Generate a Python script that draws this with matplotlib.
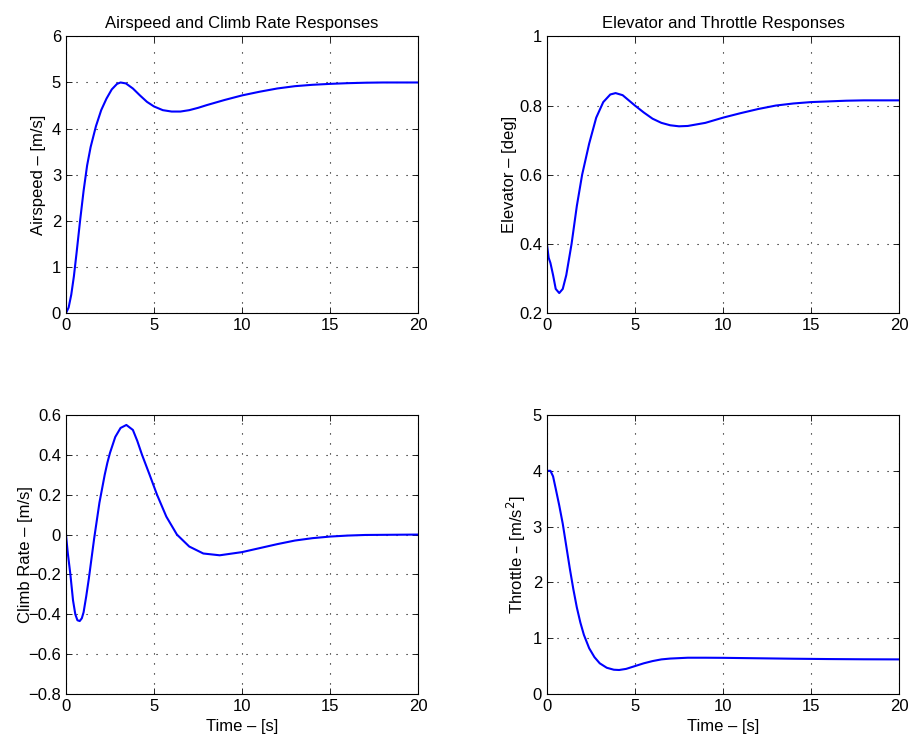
import matplotlib
matplotlib.use('Agg')
import matplotlib.pyplot as plt

plt.rcParams['font.family'] = ['Liberation Sans', 'DejaVu Sans']
plt.rcParams['font.size'] = 12

# airspeed response
t_air = [0, 0.15, 0.3, 0.45, 0.6, 0.8, 1.0, 1.2, 1.4, 1.7, 2.0, 2.3, 2.6, 2.9, 3.1,
         3.4, 3.8, 4.2, 4.6, 5.0, 5.5, 6.0, 6.5, 7.0, 7.5, 8, 9, 10, 11, 12, 13, 14,
         15, 16, 17, 18, 20]
airspeed = [0, 0.12, 0.4, 0.8, 1.3, 2.0, 2.65, 3.2, 3.6, 4.05, 4.4, 4.65, 4.85, 4.97, 5.0,
            4.98, 4.87, 4.72, 4.58, 4.48, 4.4, 4.37, 4.37, 4.4, 4.45, 4.51, 4.62, 4.72,
            4.8, 4.87, 4.92, 4.95, 4.97, 4.985, 4.995, 5.0, 5.0]

# climb rate response
t_climb = [0, 0.1, 0.25, 0.4, 0.53, 0.65, 0.78, 0.9, 1.0, 1.15, 1.3, 1.45, 1.6, 1.75, 1.9,
           2.05, 2.2, 2.35, 2.5, 2.8, 3.1, 3.43, 3.8, 4.05, 4.32, 4.75, 5.17, 5.7, 6.3,
           7.0, 7.8, 8.73, 10, 11, 12, 13, 14, 15, 16, 17, 20]
climb = [0, -0.09, -0.2, -0.33, -0.4, -0.43, -0.434, -0.42, -0.39, -0.31, -0.22, -0.12,
         -0.02, 0.07, 0.16, 0.23, 0.3, 0.36, 0.41, 0.49, 0.535, 0.55, 0.525, 0.47, 0.4,
         0.3, 0.2, 0.09, 0.0, -0.06, -0.095, -0.104, -0.088, -0.068, -0.048, -0.03,
         -0.018, -0.01, -0.005, -0.002, 0]

# elevator response
t_elev = [0, 0.1, 0.2, 0.35, 0.5, 0.7, 0.9, 1.1, 1.4, 1.7, 2.0, 2.4, 2.8, 3.2, 3.6, 3.9,
          4.3, 5, 5.5, 6, 6.5, 7, 7.5, 8, 9, 10, 11, 12, 13, 14, 15, 16, 17, 18, 20]
elevator = [0.40, 0.36, 0.345, 0.31, 0.27, 0.258, 0.27, 0.31, 0.40, 0.51, 0.6, 0.69,
            0.765, 0.81, 0.832, 0.836, 0.83, 0.80, 0.78, 0.762, 0.75, 0.743, 0.74, 0.741,
            0.75, 0.765, 0.778, 0.79, 0.80, 0.806, 0.81, 0.812, 0.814, 0.815, 0.815]

# throttle response
t_thr = [0, 0.2, 0.35, 0.5, 0.7, 0.9, 1.1, 1.3, 1.5, 1.7, 1.9, 2.1, 2.4, 2.7, 3.0, 3.4,
         3.8, 4.1, 4.5, 5.0, 5.5, 6.0, 6.5, 7, 8, 9, 10, 12, 14, 16, 18, 20]
throttle = [4.0, 4.0, 3.9, 3.68, 3.38, 3.05, 2.65, 2.25, 1.88, 1.55, 1.28, 1.06, 0.82,
            0.66, 0.55, 0.47, 0.435, 0.43, 0.45, 0.5, 0.55, 0.59, 0.62, 0.635, 0.65,
            0.65, 0.648, 0.64, 0.632, 0.626, 0.622, 0.62]

fig = plt.figure(figsize=(9.1, 7.42), dpi=100)
ax1 = fig.add_axes([0.0725, 0.578, 0.387, 0.373])
ax2 = fig.add_axes([0.601, 0.578, 0.387, 0.373])
ax3 = fig.add_axes([0.0725, 0.0647, 0.387, 0.376])
ax4 = fig.add_axes([0.601, 0.0647, 0.387, 0.376])

def style(ax, ylim, yticks, lx):
    ax.set_xlim(0, 20)
    ax.set_xticks([0, 5, 10, 15, 20])
    ax.set_ylim(*ylim)
    ax.set_yticks(yticks)
    ax.grid(True, color='black', linestyle=(0, (1, 8)), linewidth=0.8)
    ax.tick_params(direction='in', top=True, right=True, length=4, width=0.6)
    for s in ax.spines.values():
        s.set_linewidth(0.8)
    ax.yaxis.set_label_coords(lx, 0.5)

ax1.plot(t_air, airspeed, color='blue', lw=1.5)
ax1.set_title('Airspeed and Climb Rate Responses', fontsize=12)
ax1.set_ylabel('Airspeed – [m/s]')
style(ax1, (0, 6), [0, 1, 2, 3, 4, 5, 6], -0.057)

ax2.plot(t_elev, elevator, color='blue', lw=1.5)
ax2.set_title('Elevator and Throttle Responses', fontsize=12)
ax2.set_ylabel('Elevator – [deg]')
style(ax2, (0.2, 1.0), [0.2, 0.4, 0.6, 0.8, 1.0], -0.085)
ax2.set_yticklabels(['0.2', '0.4', '0.6', '0.8', '1'])

ax3.plot(t_climb, climb, color='blue', lw=1.5)
ax3.set_ylabel('Climb Rate – [m/s]')
ax3.set_xlabel('Time – [s]')
style(ax3, (-0.8, 0.6), [-0.8, -0.6, -0.4, -0.2, 0, 0.2, 0.4, 0.6], -0.094)
ax3.set_yticklabels(['−0.8', '−0.6', '−0.4', '−0.2', '0', '0.2', '0.4', '0.6'])

ax4.plot(t_thr, throttle, color='blue', lw=1.5)
ax4.set_ylabel('Throttle – [m/s$^2$]')
ax4.set_xlabel('Time – [s]')
style(ax4, (0, 5), [0, 1, 2, 3, 4, 5], -0.054)

fig.savefig('out.png', dpi=100)
